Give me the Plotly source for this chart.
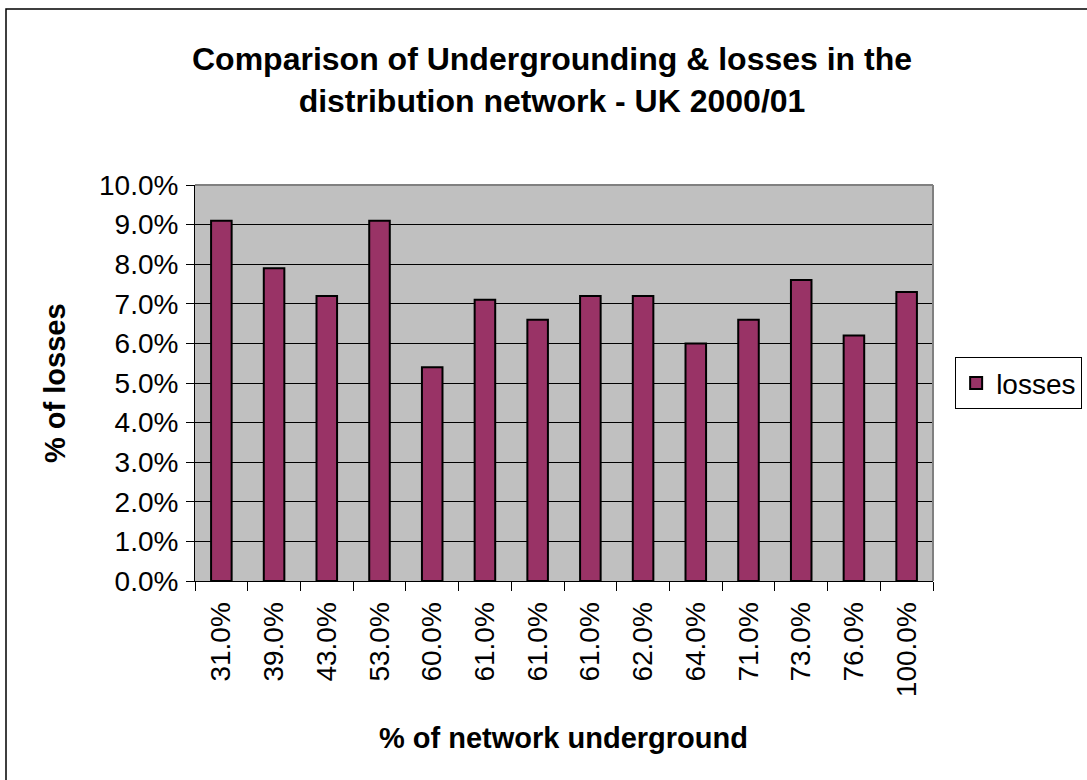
import plotly.graph_objects as go

categories = ["31.0%", "39.0%", "43.0%", "53.0%", "60.0%", "61.0%", "61.0%",
              "61.0%", "62.0%", "64.0%", "71.0%", "73.0%", "76.0%", "100.0%"]
losses = [0.091, 0.079, 0.072, 0.091, 0.054, 0.071, 0.066,
          0.072, 0.072, 0.060, 0.066, 0.076, 0.062, 0.073]
positions = list(range(len(categories)))

FONT = "Liberation Sans, Arial, sans-serif"

fig = go.Figure()
fig.add_trace(go.Bar(
    x=positions, y=losses, name="losses", width=0.39,
    marker=dict(color="#993366", line=dict(color="black", width=2)),
))

fig.update_layout(
    width=1087, height=780,
    margin=dict(l=195, r=154, t=185, b=199, autoexpand=False),
    paper_bgcolor="white", plot_bgcolor="#C0C0C0",
    font=dict(family=FONT, size=28, color="black"),
    showlegend=True,
    legend=dict(x=1.03, y=0.565, xanchor="left", yanchor="top",
                bordercolor="black", borderwidth=1, bgcolor="white",
                font=dict(size=28), itemsizing="constant",
                itemwidth=30, tracegroupgap=0),
    xaxis=dict(range=[-0.5, 13.5], tickmode="array", tickvals=positions,
               ticktext=categories, tickangle=-90, ticks="", showgrid=False,
               showline=True, linecolor="black", linewidth=1, zeroline=False,
               tickfont=dict(size=28), ticklabelstandoff=9,
               minor=dict(tick0=-0.5, dtick=1, ticks="outside", ticklen=9,
                          tickcolor="black", tickwidth=1, showgrid=False)),
    yaxis=dict(range=[0, 0.10], dtick=0.01, tickformat=".1%",
               showgrid=True, gridcolor="black", gridwidth=1,
               ticks="outside", ticklen=8, tickcolor="black",
               showline=True, linecolor="black", linewidth=1, zeroline=False,
               tickfont=dict(size=28), ticklabelstandoff=2),
)

# plot-area border (top and right, grey)
fig.add_shape(type="line", xref="paper", yref="paper", x0=0, x1=1, y0=1, y1=1,
              line=dict(color="#808080", width=2))
fig.add_shape(type="line", xref="paper", yref="paper", x0=1, x1=1, y0=0, y1=1,
              line=dict(color="#808080", width=2))
# chart outer frame
fig.add_shape(type="rect", xref="paper", yref="paper",
              x0=(6 - 195) / 738, x1=(1095 - 195) / 738,
              y0=(581 - 795) / 396, y1=(581 - 9) / 396,
              line=dict(color="black", width=1.5), fillcolor="rgba(0,0,0,0)")

fig.add_annotation(text="<b>Comparison of Undergrounding &amp; losses in the<br>distribution network - UK 2000/01</b>",
                   xref="paper", yref="paper", x=(552 - 195) / 738, y=(581 - 80) / 396,
                   xanchor="center", yanchor="middle", showarrow=False,
                   font=dict(size=32, family=FONT), align="center")
fig.add_annotation(text="<b>% of losses</b>", xref="paper", yref="paper",
                   x=(55 - 195) / 738, y=(581 - 383) / 396, textangle=-90,
                   xanchor="center", yanchor="middle", showarrow=False,
                   font=dict(size=29, family=FONT))
fig.add_annotation(text="<b>% of network underground</b>", xref="paper", yref="paper",
                   x=(563 - 195) / 738, y=(581 - 738) / 396,
                   xanchor="center", yanchor="middle", showarrow=False,
                   font=dict(size=29, family=FONT))

fig.write_html("out.html")
